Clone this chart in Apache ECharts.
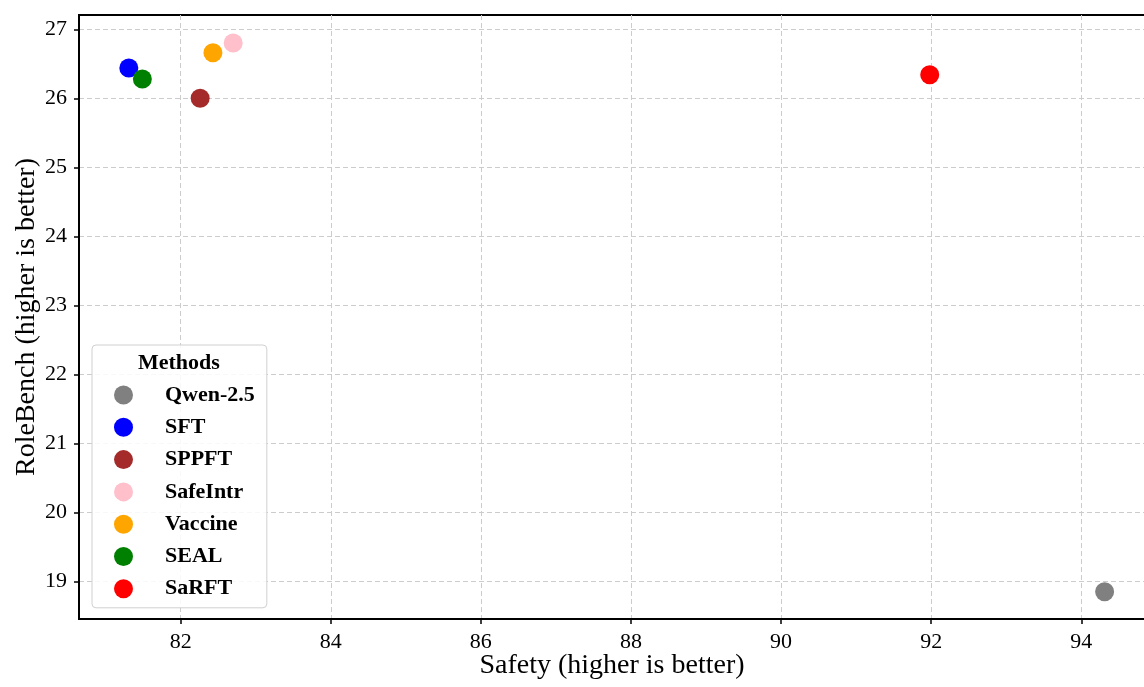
<!DOCTYPE html>
<html>
<head>
<meta charset="utf-8">
<script src="https://cdn.jsdelivr.net/npm/echarts@6/dist/echarts.min.js"></script>
<style>
  html, body { margin: 0; padding: 0; background: #fff; }
  #chart { width: 1144px; height: 687px; }
</style>
</head>
<body>
<div id="chart"></div>
<script>
// Methods compared on safety vs. role-play ability
const methods = ['Qwen-2.5', 'SFT', 'SPPFT', 'SafeIntr', 'Vaccine', 'SEAL', 'SaRFT'];
const safety = [94.31, 81.31, 82.26, 82.70, 82.43, 81.49, 91.98];
const roleBench = [18.85, 26.44, 26.0, 26.80, 26.66, 26.28, 26.34];
const xTicks = [82, 84, 86, 88, 90, 92, 94];
const yTicks = [19, 20, 21, 22, 23, 24, 25, 26, 27];

const palette = ['#808080', '#0000ff', '#a52a2a', '#ffc0cb', '#ffa500', '#008000', '#ff0000'];
const FONT = '"Liberation Serif", "Times New Roman", serif';

const chart = echarts.init(document.getElementById('chart'), null, { renderer: 'canvas' });

const series = methods.map((name, i) => ({
  name: name,
  type: 'scatter',
  symbol: 'circle',
  symbolSize: 19,
  itemStyle: { color: palette[i], opacity: 1 },
  data: [[safety[i], roleBench[i]]],
  z: 3
}));

const gridLine = { show: true, lineStyle: { color: '#cccccc', width: 1, type: [5, 3] } };

chart.setOption({
  animation: false,
  backgroundColor: '#ffffff',
  color: palette,
  grid: {
    left: 79, top: 15, right: -1, bottom: 68,
    outerBoundsMode: 'none',
    containLabel: false,
    show: true, borderColor: '#000', borderWidth: 2, backgroundColor: 'transparent'
  },
  xAxis: {
    type: 'value',
    min: 80.646, max: 94.848,
    splitNumber: 7,
    name: 'Safety (higher is better)',
    nameLocation: 'middle',
    nameGap: 33,
    nameMoveOverlap: false,
    nameTextStyle: { fontFamily: FONT, fontSize: 28, color: '#000' },
    axisLine: { show: true, lineStyle: { color: '#000', width: 2 } },
    axisTick: { show: true, inside: false, length: 5, lineStyle: { color: '#000', width: 1.5 }, customValues: xTicks },
    axisLabel: { fontFamily: FONT, fontSize: 22, color: '#000', margin: 12, customValues: xTicks },
    splitLine: gridLine
  },
  yAxis: {
    type: 'value',
    min: 18.455, max: 27.207,
    splitNumber: 8,
    name: 'RoleBench (higher is better)',
    nameLocation: 'middle',
    nameGap: 38,
    nameMoveOverlap: false,
    nameTextStyle: { fontFamily: FONT, fontSize: 28, color: '#000' },
    axisLine: { show: true, lineStyle: { color: '#000', width: 2 } },
    axisTick: { show: true, inside: false, length: 5, lineStyle: { color: '#000', width: 1.5 }, customValues: yTicks },
    axisLabel: { fontFamily: FONT, fontSize: 22, color: '#000', margin: 12, customValues: yTicks },
    splitLine: gridLine
  },
  legend: {
    orient: 'vertical',
    left: 92,
    top: 345,
    data: methods,
    icon: 'circle',
    itemWidth: 19,
    itemHeight: 19,
    itemGap: 10.3,
    padding: [39, 12, 8, 22],
    backgroundColor: 'rgba(255,255,255,0.85)',
    borderColor: '#d0d0d0',
    borderWidth: 1,
    borderRadius: 4,
    selectedMode: false,
    textStyle: {
      fontFamily: FONT, fontSize: 22, fontWeight: 'bold', color: '#000',
      lineHeight: 22, padding: [0, 0, 0, 27]
    },
    z: 10
  },
  graphic: [{
    type: 'text',
    left: 180 - 42,
    top: 352,
    z: 20,
    style: {
      text: 'Methods',
      font: 'bold 22px ' + FONT,
      fill: '#000'
    }
  }],
  series: series
});
</script>
</body>
</html>
